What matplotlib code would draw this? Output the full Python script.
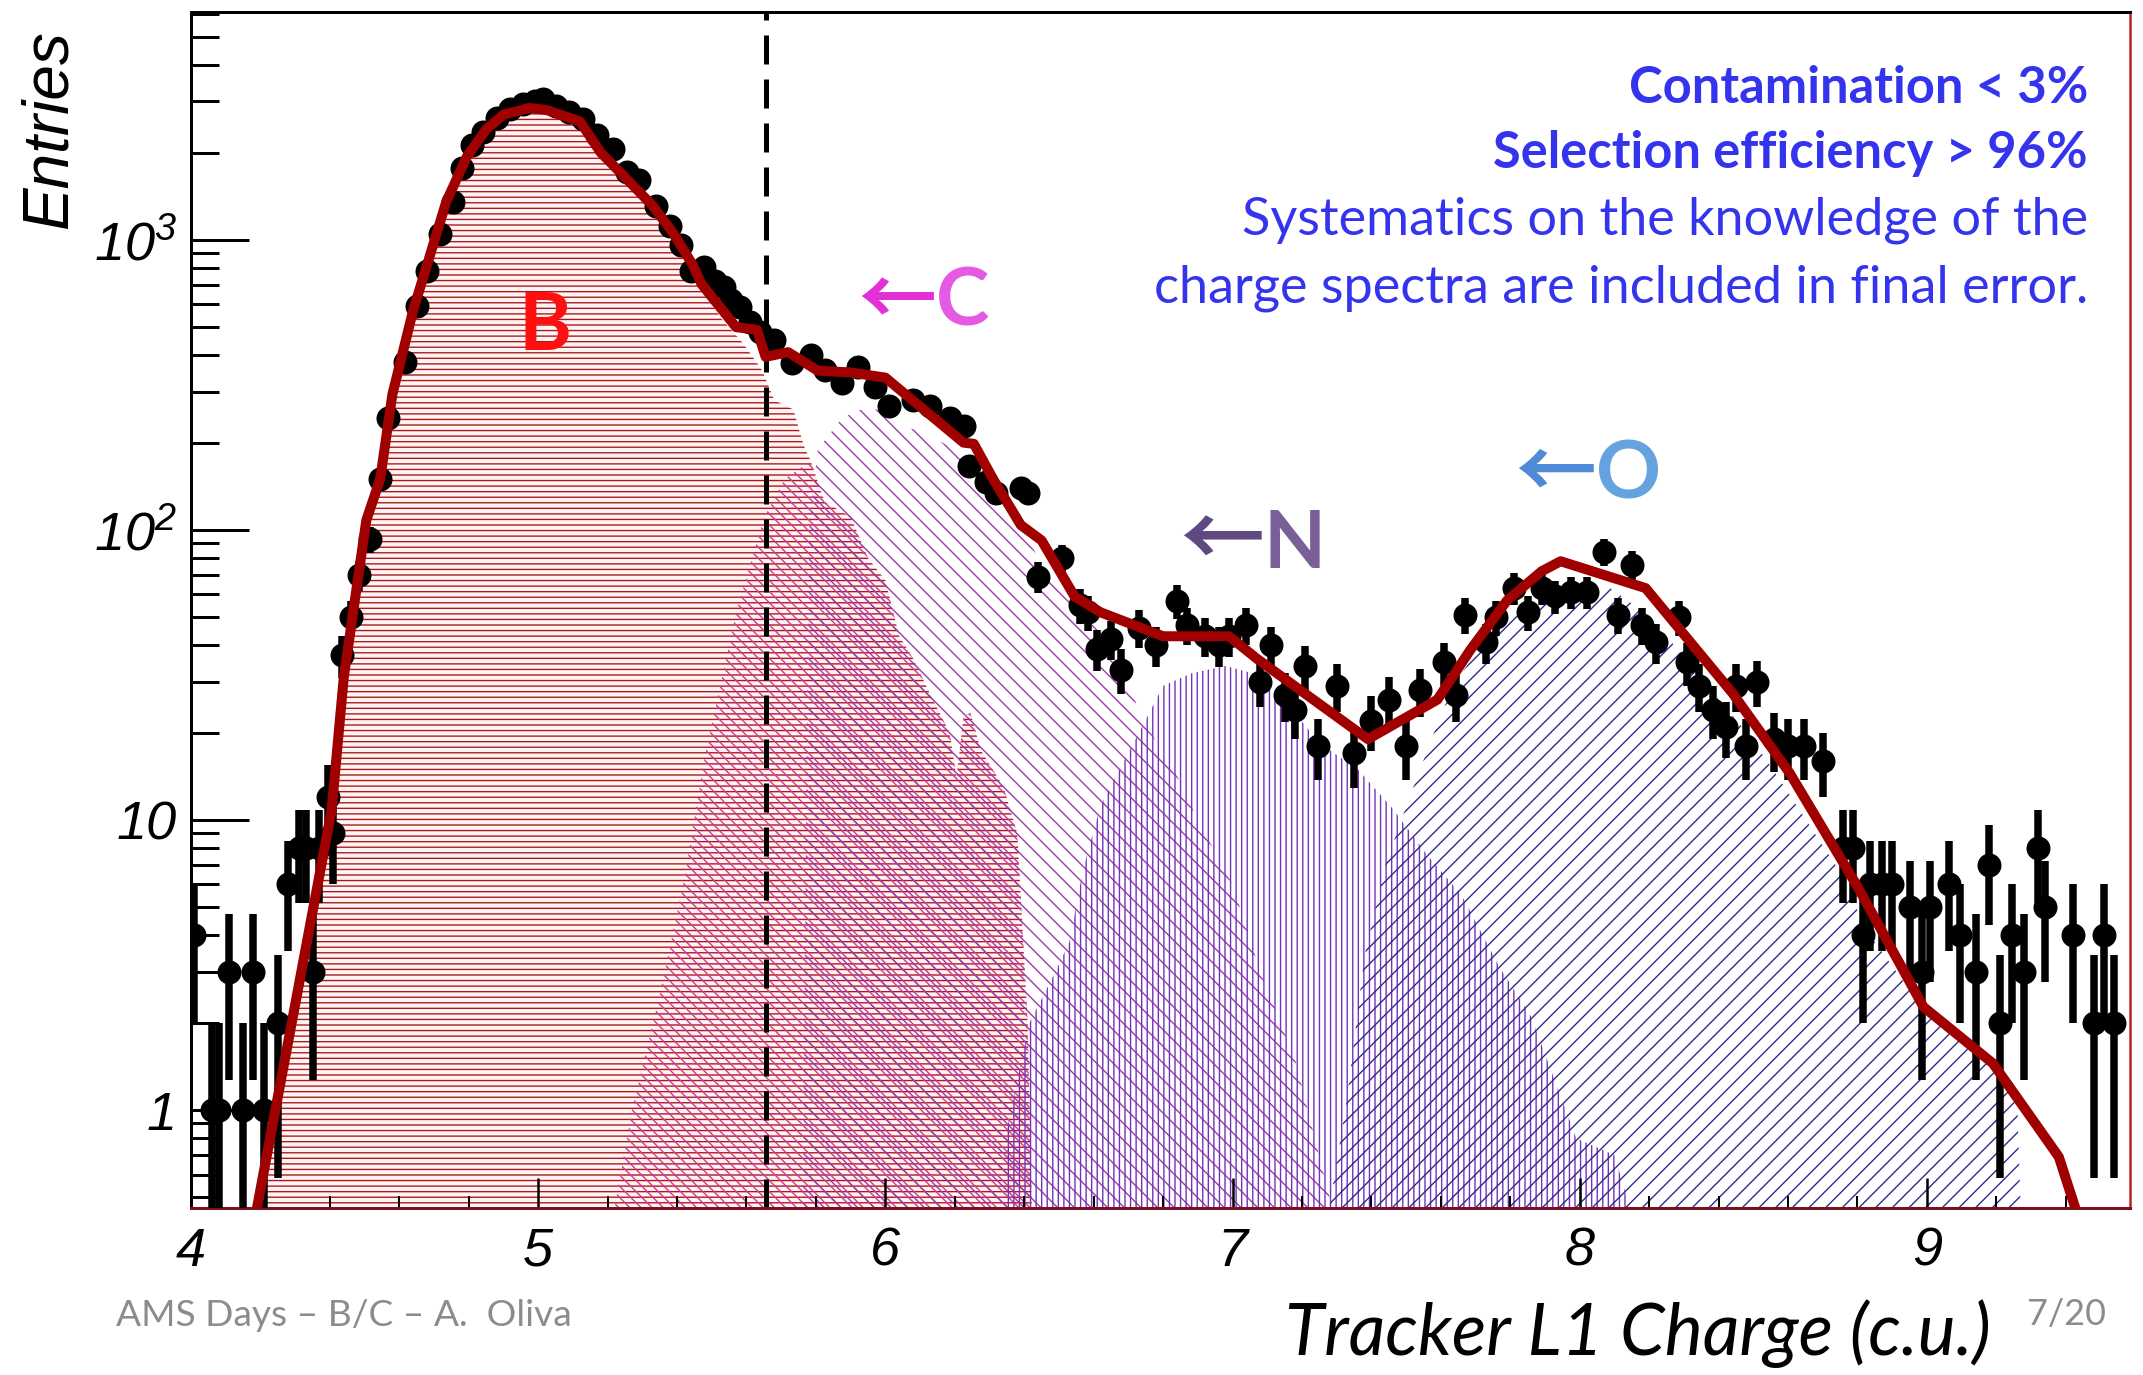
import numpy as np
import matplotlib
matplotlib.use('Agg')
import matplotlib.pyplot as plt
from matplotlib.ticker import MultipleLocator, LogLocator, NullFormatter

# ---------------- data ----------------
charge = [4.01, 4.06, 4.08, 4.11, 4.15, 4.18, 4.21, 4.25, 4.28, 4.31, 4.33, 4.35, 4.37, 4.395,
          4.41, 4.435, 4.46, 4.485, 4.515, 4.545, 4.567, 4.616, 4.65, 4.68, 4.717, 4.755, 4.78,
          4.81, 4.84, 4.88, 4.92, 4.957, 4.99, 5.015, 5.05, 5.09, 5.13, 5.17, 5.215, 5.255, 5.29,
          5.34, 5.38, 5.41, 5.44, 5.477, 5.51, 5.536, 5.555, 5.58, 5.61, 5.64, 5.68, 5.73, 5.785,
          5.825, 5.875, 5.92, 5.97, 6.01, 6.08, 6.13, 6.185, 6.226, 6.24, 6.29, 6.32, 6.39, 6.41,
          6.44, 6.51, 6.56, 6.585, 6.61, 6.65, 6.68, 6.73, 6.78, 6.84, 6.87, 6.92, 6.96, 6.99,
          7.04, 7.08, 7.11, 7.15, 7.18, 7.21, 7.245, 7.30, 7.35, 7.40, 7.45, 7.50, 7.54, 7.61,
          7.645, 7.67, 7.73, 7.76, 7.81, 7.85, 7.89, 7.93, 7.975, 8.02, 8.07, 8.11, 8.15, 8.18,
          8.22, 8.285, 8.31, 8.345, 8.385, 8.42, 8.45, 8.48, 8.51, 8.56, 8.60, 8.645, 8.70, 8.757,
          8.786, 8.815, 8.835, 8.87, 8.90, 8.95, 8.985, 9.01, 9.065, 9.095, 9.14, 9.18, 9.21,
          9.245, 9.28, 9.32, 9.34, 9.42, 9.48, 9.51, 9.54]
entries = [4, 1, 1, 3, 1, 3, 1, 2, 6, 8, 8, 3, 8, 12,
           9, 37, 50, 70, 93, 150, 244, 380, 590, 780, 1050, 1350, 1770,
           2130, 2350, 2640, 2820, 2950, 3000, 3050, 2900, 2750, 2600, 2300, 2050, 1720, 1610,
           1310, 1120, 960, 780, 805, 720, 690, 620, 585, 520, 480, 450, 375, 400,
           355, 320, 365, 310, 267, 280, 267, 243, 228, 166, 146, 134, 139, 134,
           69, 80, 55, 52, 39, 42, 33, 46, 40, 57, 47, 43, 40, 43,
           47, 30, 40, 27, 24, 34, 18, 29, 17, 22, 26, 18, 28, 35,
           27, 51, 41, 50, 63, 52, 63, 59, 61, 61, 84, 51, 76, 47,
           41, 50, 35, 29, 24, 21, 29, 18, 30, 19, 18, 18, 16, 8,
           8, 4, 6, 6, 6, 5, 3, 5, 6, 4, 3, 7, 2,
           4, 3, 8, 5, 4, 2, 4, 2]

fit_x = [4.19, 4.405, 4.44, 4.505, 4.545, 4.58, 4.64, 4.68, 4.735, 4.795, 4.85, 4.90, 4.975,
         5.025, 5.12, 5.18, 5.255, 5.33, 5.39, 5.445, 5.47, 5.57, 5.63, 5.655, 5.72, 5.805,
         5.90, 6.00, 6.225, 6.255, 6.31, 6.39, 6.45, 6.545, 6.62, 6.80, 6.99, 7.07, 7.39, 7.59,
         7.685, 7.79, 7.89, 7.945, 8.19, 8.44, 8.605, 8.80, 8.99, 9.19, 9.38, 9.43]
fit_y = [0.46, 10.8, 31, 108, 150, 293, 572, 820, 1350, 1940, 2400, 2700, 2850,
         2800, 2560, 2000, 1620, 1310, 1050, 820, 705, 500, 490, 395, 410, 354,
         349, 335, 200, 198, 150, 104, 92, 59, 52, 43, 43, 36, 19, 26,
         38.6, 57, 72, 78, 63, 27.4, 14.5, 5.9, 2.27, 1.45, 0.69, 0.45]

# template B (horizontal hatch)
b_x = [4.19, 4.405, 4.44, 4.505, 4.545, 4.58, 4.64, 4.68, 4.735, 4.795, 4.85, 4.90, 4.975,
       5.025, 5.12, 5.18, 5.255, 5.33, 5.39, 5.445, 5.47, 5.53, 5.59, 5.645, 5.68, 5.735,
       5.765, 5.785, 5.825, 5.90, 5.95, 6.00, 6.04, 6.08, 6.13, 6.185, 6.205, 6.225, 6.245,
       6.275, 6.34, 6.38, 6.41, 6.425]
b_y = [0.46, 10.8, 31, 100, 145, 280, 550, 800, 1300, 1880, 2330, 2620, 2780,
       2730, 2500, 1950, 1580, 1280, 1020, 790, 680, 530, 440, 355, 280, 260,
       195, 173, 125, 111, 80, 67, 43, 36, 27, 20, 14, 22.7, 23.4,
       17.4, 13, 9, 2, 0.3]
# pink template
p_x = [5.22, 5.27, 5.35, 5.42, 5.48, 5.57, 5.65, 5.71, 5.785, 5.825, 5.90, 5.95, 6.00, 6.04,
       6.08, 6.13, 6.185, 6.205, 6.225, 6.245, 6.275, 6.34, 6.38, 6.41, 6.425]
p_y = [0.46, 1.0, 2.5, 6.2, 16.6, 52, 110, 150, 173, 125, 111, 80, 67, 43,
       36, 27, 20, 14, 22.7, 23.4, 17.4, 13, 9, 2, 0.3]
# C template
c_x = [5.76, 5.78, 5.805, 5.875, 5.93, 6.00, 6.04, 6.10, 6.185, 6.225, 6.27, 6.34, 6.39, 6.44,
       6.49, 6.60, 6.65, 6.70, 6.74, 6.82, 6.90, 7.00, 7.08, 7.18, 7.30]
c_y = [0.3, 100, 189, 243, 260, 260, 228, 220, 194, 171, 142, 125, 104, 80,
       67, 49, 38, 30, 22, 16, 10, 6, 3, 1.5, 0.4]
# N template
n_x = [6.34, 6.345, 6.415, 6.49, 6.53, 6.57, 6.62, 6.675, 6.74, 6.80, 6.88, 6.98, 7.06, 7.15,
       7.25, 7.36, 7.46, 7.56, 7.66, 7.77, 7.86, 7.99, 8.10, 8.19]
n_y = [0.3, 0.8, 2.0, 3.0, 3.8, 6.8, 11.2, 15, 21, 29, 32, 34, 32, 26,
       18.4, 15, 11, 7.6, 5.5, 3.1, 2.1, 0.8, 0.7, 0.3]
# O template
o_x = [7.27, 7.33, 7.38, 7.44, 7.51, 7.58, 7.63, 7.70, 7.78, 7.87, 7.97, 8.08, 8.18, 8.285,
       8.385, 8.49, 8.59, 8.74, 8.83, 8.96, 9.085, 9.2, 9.26, 9.275]
o_y = [0.4, 1.1, 3.4, 7, 12, 20, 28, 38, 48, 56, 60.6, 64, 52.5, 38.6,
       27.4, 19.5, 13, 6.9, 4.1, 2.5, 1.84, 1.4, 1.08, 0.3]

x_ticks = [4, 5, 6, 7, 8, 9]
y_ticks = [1, 10, 100, 1000]
y_ticklabels = ['1', '10', '$10^{2}$', '$10^{3}$']
cut_value = 5.655

# ---------------- style ----------------
W, H, DPI = 2143, 1375, 100
def fx(p): return p / W
def fy(p): return 1 - p / H
def pt(p): return p * 72.0 / DPI

plt.rcParams['font.family'] = ['Liberation Sans', 'DejaVu Sans']
plt.rcParams['font.style'] = 'italic'
plt.rcParams['mathtext.fontset'] = 'custom'
plt.rcParams['mathtext.rm'] = 'Liberation Sans:italic'
plt.rcParams['mathtext.it'] = 'Liberation Sans:italic'
plt.rcParams['hatch.linewidth'] = 1.0

fig = plt.figure(figsize=(W / DPI, H / DPI), dpi=DPI, facecolor='white')
ax = fig.add_axes([fx(191), fy(1208), (2130 - 191) / W, (1208 - 12) / H])
ax.set_yscale('log')
ax.set_xlim(4.0, 9.585)
ax.set_ylim(0.46, 6100)

def template(xs, ys, color, hatch, face='none', z=1):
    px_ = list(xs) + [xs[-1], xs[0]]
    py_ = list(ys) + [1e-2, 1e-2]
    ax.fill(px_, py_, facecolor=face, edgecolor=color, hatch=hatch, linewidth=0, zorder=z)

template(b_x, b_y, '#b01818', '---', face='#fdf5f5', z=1)
template(p_x, p_y, '#d0389c', '\\\\\\', z=1.1)
template(c_x, c_y, '#9a3ca8', '\\\\', z=1.2)
template(n_x, n_y, '#7432b8', '|||', z=1.3)
template(o_x, o_y, '#2c2c8c', '//', z=1.4)

ax.axvline(cut_value, color='black', lw=pt(5), dashes=(5.8, 3.0), zorder=2)

cnt = np.array(entries, dtype=float)
err = np.sqrt(cnt)
lo = np.minimum(err, cnt - 1e-3)
ax.errorbar(charge, cnt, yerr=[lo, err], fmt='o', color='black', ms=pt(24), mew=0,
            elinewidth=pt(7.5), capsize=pt(7), capthick=pt(6), zorder=5)

ax.plot(fit_x, fit_y, color='#a00000', lw=pt(10), solid_joinstyle='round',
        solid_capstyle='butt', zorder=6)

# axes / ticks
ax.xaxis.set_major_locator(MultipleLocator(1))
ax.xaxis.set_minor_locator(MultipleLocator(0.2))
ax.set_xticks(x_ticks)
ax.set_xticklabels([str(v) for v in x_ticks])
ax.set_yticks(y_ticks)
ax.set_yticklabels(y_ticklabels)
ax.yaxis.set_minor_locator(LogLocator(base=10, subs=np.arange(2, 10)))
ax.yaxis.set_minor_formatter(NullFormatter())
ax.tick_params(axis='y', which='major', direction='in', length=pt(58), width=pt(3),
               labelsize=39, pad=pt(14), colors='black')
ax.tick_params(axis='y', which='minor', direction='in', length=pt(28), width=pt(3))
ax.tick_params(axis='x', which='major', direction='in', length=pt(30), width=pt(2.5),
               labelsize=39, pad=pt(19))
ax.tick_params(axis='x', which='minor', direction='in', length=pt(12), width=pt(2))
for lab in ax.get_xticklabels() + ax.get_yticklabels():
    lab.set_fontstyle('italic')

ax.spines['left'].set_linewidth(pt(3))
ax.spines['top'].set_linewidth(pt(3))
ax.spines['bottom'].set_linewidth(pt(3))
ax.spines['bottom'].set_color('#7a1020')
ax.spines['right'].set_linewidth(pt(2.5))
ax.spines['right'].set_color('#b02828')

# ---------------- texts ----------------
renderer = fig.canvas.get_renderer()
def fit_w(t, target):
    w = t.get_window_extent(renderer).width
    t.set_fontsize(t.get_fontsize() * target / w)
    return t.get_fontsize()

BLUE = '#3434ee'
t1 = fig.text(fx(2088), fy(103), 'Contamination < 3%', ha='right', va='baseline',
              family='Lato', style='normal', weight='bold', color=BLUE, fontsize=30)
t2 = fig.text(fx(2088), fy(168), 'Selection efficiency > 96%', ha='right', va='baseline',
              family='Lato', style='normal', weight='bold', color=BLUE, fontsize=30)
t3 = fig.text(fx(2088), fy(235), 'Systematics on the knowledge of the', ha='right',
              va='baseline', family='Lato', style='normal', color=BLUE, fontsize=30)
t4 = fig.text(fx(2088), fy(302), 'charge spectra are included in final error.', ha='right',
              va='baseline', family='Lato', style='normal', color=BLUE, fontsize=30)
sb = fit_w(t2, 595)
t1.set_fontsize(sb)
sr = fit_w(t4, 935)
t3.set_fontsize(sr)

xl = fig.text(fx(1991), fy(1355), 'Tracker L1 Charge (c.u.)', ha='right', va='baseline',
              family='Lato', style='italic', color='black', fontsize=40)
fit_w(xl, 706)

ft = fig.text(fx(116), fy(1326), 'AMS Days \u2013 B/C \u2013 A.  Oliva', ha='left',
              va='baseline', family='Lato', style='normal', color='#8c8c8c', fontsize=24)
fit_w(ft, 456)
pg = fig.text(fx(2027), fy(1325), '7/20', ha='left', va='baseline', family='Lato',
              style='normal', color='#8c8c8c', fontsize=24)
fit_w(pg, 79)

en = fig.text(fx(50), fy(30), 'Entries', rotation=90, ha='center', va='top',
              family='Liberation Sans', style='italic', color='black', fontsize=46)

# element labels
fig.text(fx(545), fy(350), 'B', ha='center', va='baseline', family='Lato', style='normal',
         weight='bold', color='#ff1010', fontsize=58)

def elem(x_arrow, x_letter, base, letter, c_arrow, c_letter):
    a = fig.text(fx(x_arrow), fy(base), '\u2190', ha='left', va='baseline',
                 family=['Noto Sans CJK JP', 'DejaVu Sans'], style='normal', weight='bold',
                 color=c_arrow, fontsize=56)
    fit_w(a, x_letter - x_arrow)
    fig.text(fx(x_letter), fy(base), letter, ha='left', va='baseline', family='Lato',
             style='normal', weight='bold', color=c_letter, fontsize=58)

elem(858, 936, 326, 'C', '#e030d6', '#e45ae2')
elem(1180, 1264, 568, 'N', '#5e4a80', '#7a6098')
elem(1515, 1596, 499, 'O', '#4f8ad6', '#64a2e0')

fig.savefig('out.png', dpi=DPI, facecolor='white')
